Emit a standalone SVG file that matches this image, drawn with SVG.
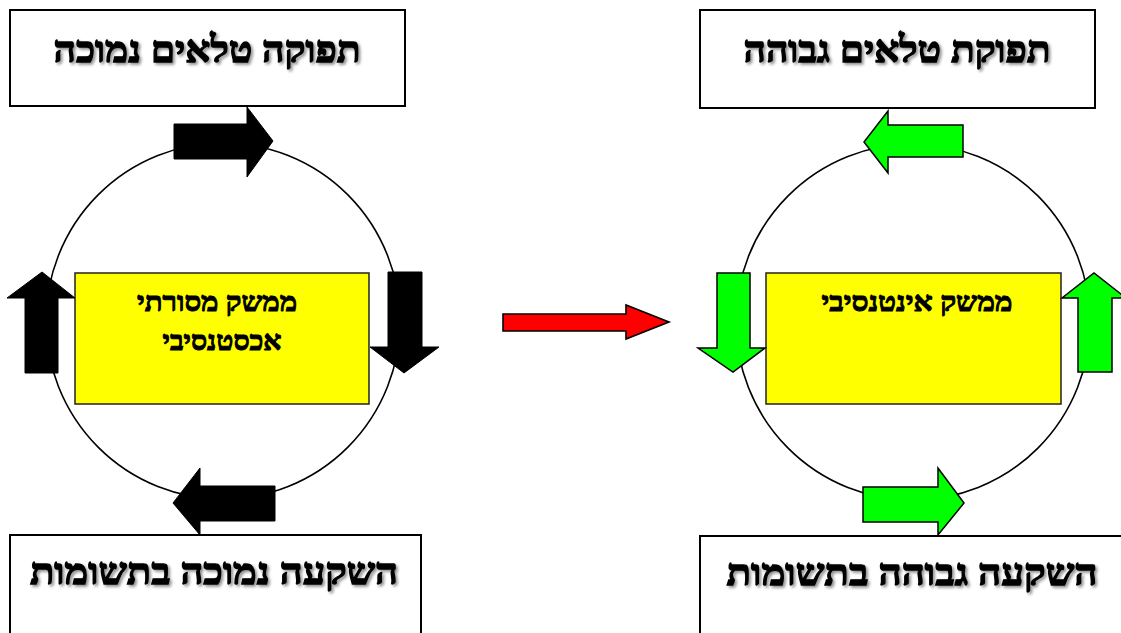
<svg xmlns="http://www.w3.org/2000/svg" width="1121" height="633" viewBox="0 0 1121 633">
  <defs>
    <filter id="sh" x="-10%" y="-30%" width="120%" height="160%">
      <feDropShadow dx="2" dy="2" stdDeviation="1.5" flood-color="#000" flood-opacity="0.45"/>
    </filter>
  </defs>
  <style>
    .box{fill:#fff;stroke:#000;stroke-width:2}
    .yel{fill:#ffff00;stroke:#222;stroke-width:1.5}
    .ring{fill:none;stroke:#000;stroke-width:1.6}
    .title{font-family:"Liberation Serif","DejaVu Serif",serif;font-weight:bold;font-size:37px;fill:#000;stroke:#000;stroke-width:1.3;text-anchor:middle;filter:url(#sh)}
    .inner{font-family:"Liberation Serif","DejaVu Serif",serif;font-weight:bold;font-size:27px;fill:#000;stroke:#000;stroke-width:1;text-anchor:middle}
    .blk{fill:#000;stroke:#000;stroke-width:1}
    .grn{fill:#00ff00;stroke:#000;stroke-width:1.5;stroke-linejoin:miter}
    .red{fill:#ff0000;stroke:#000;stroke-width:1.6}
  </style>
  <rect width="1121" height="633" fill="#fff"/>

  <g id="cycle-left">
    <ellipse class="ring" cx="223" cy="321" rx="177" ry="178"/>
  </g>
  <g id="cycle-right">
    <ellipse class="ring" cx="913" cy="322" rx="177" ry="178"/>
  </g>

  <g id="left-top">
    <rect class="box" x="10" y="10" width="395" height="96"/>
    <text class="title" x="207" y="62" textLength="307" lengthAdjust="spacingAndGlyphs">תפוקה טלאים נמוכה</text>
  </g>
  <g id="left-bottom">
    <rect class="box" x="10" y="535" width="411" height="110"/>
    <text class="title" x="214" y="584" textLength="368" lengthAdjust="spacingAndGlyphs">השקעה נמוכה בתשומות</text>
  </g>
  <g id="left-center">
    <rect class="yel" x="75" y="273" width="294" height="131"/>
    <text class="inner" x="217" y="311" textLength="160" lengthAdjust="spacingAndGlyphs">ממשק מסורתי</text>
    <text class="inner" x="222" y="350" textLength="119" lengthAdjust="spacingAndGlyphs">אכסטנסיבי</text>
  </g>

  <g id="right-top">
    <rect class="box" x="700" y="10" width="395" height="98"/>
    <text class="title" x="897" y="62" textLength="307" lengthAdjust="spacingAndGlyphs">תפוקת טלאים גבוהה</text>
  </g>
  <g id="right-bottom">
    <rect class="box" x="700" y="536" width="430" height="110"/>
    <text class="title" x="912" y="585" textLength="371" lengthAdjust="spacingAndGlyphs">השקעה גבוהה בתשומות</text>
  </g>
  <g id="right-center">
    <rect class="yel" x="766" y="273" width="295" height="131"/>
    <text class="inner" x="917" y="311" textLength="191" lengthAdjust="spacingAndGlyphs">ממשק אינטנסיבי</text>
  </g>

  <g id="connectors">
    <polygon class="blk" points="174,124 247,124 247,107 273,141 247,177 247,159 174,159"/>
    <polygon class="blk" points="388,272 422,272 422,347 439,347 404,373 370,347 388,347"/>
    <polygon class="blk" points="275,486 275,521 200,521 200,535 173,503 200,468 200,486"/>
    <polygon class="blk" points="25,373 58,373 58,298 75,298 42,272 7,298 25,298"/>
    <polygon class="red" points="503,314 626,314 626,305 669,322 626,339 626,331 503,331"/>
    <polygon class="grn" points="963,125 963,157 888,157 888,173 864,142 888,111 888,125"/>
    <polygon class="grn" points="717,273 750,273 750,348 765,348 733,372 698,348 717,348"/>
    <polygon class="grn" points="863,487 938,487 938,468 964,503 938,535 938,522 863,522"/>
    <polygon class="grn" points="1078,372 1112,372 1112,298 1126,298 1094,273 1062,298 1078,298"/>
  </g>
</svg>
